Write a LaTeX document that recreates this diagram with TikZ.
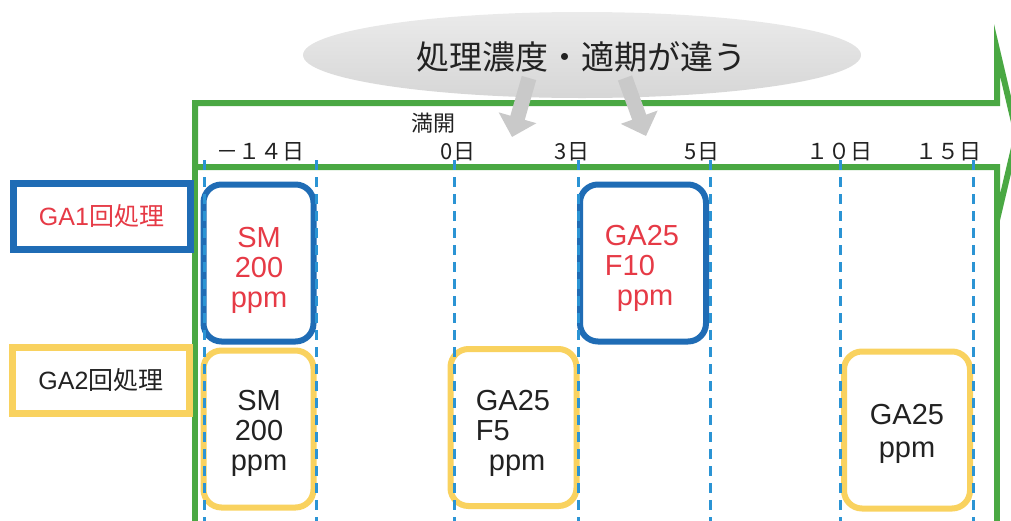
\documentclass[tikz,border=0pt]{standalone}
\usepackage{fontspec}
\setmainfont{Noto Sans CJK JP}
\newfontfamily\lat{Liberation Sans}
\usetikzlibrary{arrows.meta,shapes.geometric}
\definecolor{gblue}{HTML}{1F6CB5}
\definecolor{gyel}{HTML}{F9D25F}
\definecolor{ggreen}{HTML}{4AA843}
\definecolor{dblue}{HTML}{2B94D4}
\definecolor{gred}{HTML}{E63A46}
\definecolor{txt}{HTML}{222222}
\definecolor{arrgray}{HTML}{C9C9C9}
\tikzset{
  rbox/.style={draw, line width=6pt, rounded corners=18pt, fill=white, minimum width=110pt, minimum height=157pt, inner sep=0pt},
  bluebox/.style={rbox, draw=gblue, text=gred},
  yelbox/.style={rbox, draw=gyel, text=txt},
  boxtxt/.style={font=\lat\fontsize{29}{30}\selectfont},
  labbox/.style={draw, line width=7pt, fill=white, minimum width=177pt, minimum height=66pt, inner sep=0pt, font=\fontsize{25}{26}\selectfont},
  daylab/.style={font=\fontsize{22}{24}\selectfont, text=txt, inner sep=0pt},
  dashv/.style={draw=dblue, line width=3pt, dash pattern=on 10pt off 7pt},
  greenline/.style={draw=ggreen, line width=6pt},
  grayarr/.style={draw=arrgray, line width=15pt, -{Triangle[width=38pt,length=20pt]}}
}
\begin{document}
\begin{tikzpicture}[x=1pt,y=-1pt]
\useasboundingbox (0,0) rectangle (1011,520);
\clip (0,0) rectangle (1011,520);
% green arrow and frame
\draw[greenline, line join=miter] (195,103) -- (997,103) -- (997,50) -- (1017,135) -- (997,220) -- (997,167) -- (195,167) -- cycle;
\draw[greenline] (195,167) -- (195,525);
\draw[greenline] (997,167) -- (997,525);
% ellipse
\node[ellipse, draw=none, top color=gray!16, bottom color=gray!32, minimum width=558pt, minimum height=86pt, inner sep=0pt] (el) at (582,55) {};
\node[font=\fontsize{33}{36}\selectfont, text=txt] (eltxt) at (581,57) {処理濃度・適期が違う};
% gray arrows
\coordinate (a1s) at (529,78);
\coordinate (a1e) at (512,137);
\coordinate (a2s) at (625,78);
\coordinate (a2e) at (646,136);
\draw[grayarr] (a1s) -- (a1e);
\draw[grayarr] (a2s) -- (a2e);
% labels
\node[daylab] (mk) at (433,123) {満開};
\node[daylab] (dm14) at (260,152) {－１４日};
\node[daylab] (d0) at (458,152) {0日};
\node[daylab] (d3) at (572,152) {3日};
\node[daylab] (d5) at (702,152) {5日};
\node[daylab] (d10) at (839,152) {１０日};
\node[daylab] (d15) at (948,152) {１５日};
% left label boxes
\node[labbox, draw=gblue, text=gred] (ga1) at (101.5,216.5) {{\lat GA1}回処理};
\node[labbox, draw=gyel, text=txt] (ga2) at (101,380) {{\lat GA2}回処理};
% rounded boxes
\node[bluebox] (b1) at (258.5,263) {};
\node[boxtxt, text=gred, align=center] (b1t) at (259,270) {SM\\200\\ppm};
\node[yelbox] (y1) at (258.5,429) {};
\node[boxtxt, text=txt, align=center] (y1t) at (259,433) {SM\\200\\ppm};
\node[yelbox, minimum width=126pt] (y2) at (513.5,427.5) {};
\node[boxtxt, text=txt, align=left] (y2t) at (513,433) {GA25\\F5\\\hspace*{13pt}ppm};
\node[bluebox, minimum width=126pt] (b2) at (643,263) {};
\node[boxtxt, text=gred, align=left] (b2t) at (642,268) {GA25\\F10\\\hspace*{12pt}ppm};
\node[yelbox, minimum width=126pt] (y3) at (907,430) {};
\node[boxtxt, text=txt, align=center, font=\lat\fontsize{29}{33}\selectfont] (y3t) at (907,434) {GA25\\ppm};
% dashed day lines
\foreach \n/\x in {l1/204, l2/316, l3/454, l4/578, l5/710, l6/840, l7/973} {
  \coordinate (\n t) at (\x,160);
  \coordinate (\n b) at (\x,522);
  \draw[dashv] (\n t) -- (\n b);
}
\end{tikzpicture}
\end{document}
